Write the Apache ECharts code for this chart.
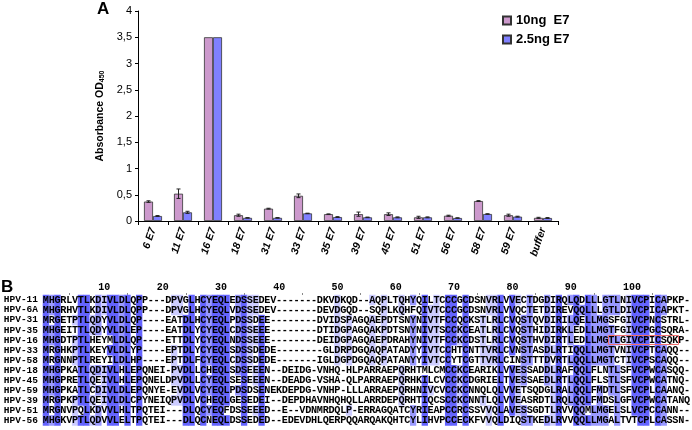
<!DOCTYPE html>
<html><head><meta charset="utf-8">
<script src="https://cdn.jsdelivr.net/npm/echarts@6.0.0/dist/echarts.min.js"></script>
<style>html,body{margin:0;padding:0;background:#fff}#c{width:692px;height:430px}</style>
</head><body><div id="c"></div><script>
// ---- Panel A data ----
const categories = ['6 E7','11 E7','16 E7','18 E7','31 E7','33 E7','35 E7','39 E7','45 E7','51 E7','56 E7','58 E7','59 E7','buffer'];
const seriesNames = ['10ng  E7', '2.5ng E7'];
const ng10 = [0.37, 0.52, 3.5, 0.11, 0.235, 0.48, 0.13, 0.13, 0.13, 0.07, 0.10, 0.38, 0.11, 0.06];
const ng10Err = [0.015, 0.09, 0, 0.02, 0.008, 0.035, 0.005, 0.04, 0.025, 0.02, 0.01, 0.008, 0.02, 0.01];
const ng25 = [0.095, 0.165, 3.5, 0.06, 0.06, 0.145, 0.075, 0.07, 0.07, 0.07, 0.057, 0.133, 0.083, 0.057];
const ng25Err = [0.008, 0.02, 0, 0.004, 0.005, 0.004, 0.008, 0.005, 0.008, 0.008, 0.004, 0.005, 0.008, 0.008];
const yTicks = {min: 0, max: 4, step: 0.5};

// ---- Panel B data ----
const seqNames = ['HPV-11','HPV-6A','HPV-31','HPV-35','HPV-16','HPV-33','HPV-58','HPV-18','HPV-45','HPV-59','HPV-39','HPV-51','HPV-56'];
const seqs = [
 'MHGRLVTLKDIVLDLQPP---DPVGLHCYEQLEDSSEDEV-------DKVDKQD--AQPLTQHYQILTCCCGCDSNVRLVVECTDGDIRQLQDLLLGTLNIVCPICAPKP-',
 'MHGRHVTLKDIVLDLQPP---DPVGLHCYEQLVDSSEDEV-------DEVDGQD--SQPLKQHFQIVTCCCGCDSNVRLVVQCTETDIREVQQLLLGTLDIVCPICAPKT-',
 'MRGETPTLQDYVLDLQP----EATDLHCYEQLPDSSDEE--------DVIDSPAGQAEPDTSNYNIVTFCCQCKSTLRLCVQSTQVDIRILQELLMGSFGIVCPNCSTRL-',
 'MHGEITTLQDYVLDLEP----EATDLYCYEQLCDSSEEE--------DTIDGPAGQAKPDTSNYNIVTSCCKCEATLRLCVQSTHIDIRKLEDLLMGTFGIVCPGCSQRA-',
 'MHGDTPTLHEYMLDLQP----ETTDLYCYEQLNDSSEEE--------DEIDGPAGQAEPDRAHYNIVTFCCKCDSTLRLCVQSTHVDIRTLEDLLMGTLGIVCPICSQKP-',
 'MRGHKPTLKEYVLDLYP----EPTDLYCYEQLSDSSDEDE--------GLDRPDGQAQPATADYYIVTCCHTCNTTVRLCVNSTASDLRTIQQLLMGTVNIVCPTCAQQ--',
 'MRGNNPTLREYILDLHP----EPTDLFCYEQLCDSSDEDE-------IGLDGPDGQAQPATANYYIVTCCYTCGTTVRLCINSTTTDVRTLQQLLMGTCTIVCPSCAQQ--',
 'MHGPKATLQDIVLHLEPQNEI-PVDLLCHEQLSDSEEEN--DEIDG-VNHQ-HLPARRAEPQRHTMLCMCCKCEARIKLVVESSADDLRAFQQLFLNTLSFVCPWCASQQ-',
 'MHGPRETLQEIVLHLEPQNELDPVDLLCYEQLSESEEEN--DEADG-VSHA-QLPARRAEPQRHKILCVCCKCDGRIELTVESSAEDLRTLQQLFLSTLSFVCPWCATNQ-',
 'MHGPKATLCDIVLDLEPQNYE-EVDLVCYEQLPDSDSENEKDEPDG-VNHP-LLLARRAEPQRHNIVCVCCKCNNQLQLVVETSQDGLRALQQLFMDTLSFVCPLCAANQ-',
 'MRGPKPTLQEIVLDLCPYNEIQPVDLVCHEQLGESEDEI--DEPDHAVNHQHQLLARRDEPQRHTIQCSCCKCNNTLQLVVEASRDTLRQLQQLFMDSLGFVCPWCATANQ',
 'MRGNVPQLKDVVLHLTPQTEI---DLQCYEQFDSSEEED--E--VDNMRDQLP-ERRAGQATCYRIEAPCCRCSSVVQLAVESSGDTLRVVQQMLMGELSLVCPCCANN--',
 'MHGKVPTLQDVVLELTPQTEI---DLQCNEQLDSSEDED--EDEVDHLQERPQQARQAKQHTCYLIHVPCCECKFVVQLDIQSTKEDLRVVQQLLMGALTVTCPLCASSN-'
];
const scaleLabelsUpTo = 100;
const boxRow = 'HPV-16';
const boxFrom = 98, boxTo = 109;

// ---- derived ----
const nCols = Math.max(...seqs.map(s => s.length));
const positions = [];
for (let i = 1; i <= nCols; i++) positions.push(String(i));
const cells = [];
for (let c = 0; c < nCols; c++) {
  const counts = {};
  seqs.forEach(s => { const ch = s[c] || '-'; if (ch !== '-') counts[ch] = (counts[ch] || 0) + 1; });
  seqs.forEach((s, r) => {
    const ch = s[c] || '-';
    let lvl = 0;
    if (ch !== '-') {
      const p = counts[ch] / seqs.length;
      lvl = p > 0.8 ? 3 : p > 0.6 ? 2 : p > 0.4 ? 1 : 0;
    }
    cells.push([c, r, lvl]);
  });
}

function errItem(offset) {
  return function (params, api) {
    const i = api.value(0), v = api.value(1), e = api.value(2);
    if (!e) return null;
    const hi = api.coord([i, v + e]), lo = api.coord([i, v - e]);
    const x = hi[0] + offset;
    const st = {stroke: '#222', lineWidth: 1};
    return {type: 'group', children: [
      {type: 'line', shape: {x1: x, y1: hi[1], x2: x, y2: lo[1]}, style: st},
      {type: 'line', shape: {x1: x - 2, y1: hi[1], x2: x + 2, y2: hi[1]}, style: st},
      {type: 'line', shape: {x1: x - 2, y1: lo[1], x2: x + 2, y2: lo[1]}, style: st}
    ]};
  };
}

const chart = echarts.init(document.getElementById('c'), null, {renderer: 'canvas'});
chart.setOption({
  animation: false,
  backgroundColor: '#fff',
  textStyle: {fontFamily: 'Liberation Sans, Arial, sans-serif'},
  graphic: [
    {type: 'text', left: 97, top: 1, style: {text: 'A', font: 'bold 17px Liberation Sans', fill: '#000'}},
    {type: 'text', left: 1, top: 279, style: {text: 'B', font: 'bold 17px Liberation Sans', fill: '#000'}}
  ],
  legend: {
    data: seriesNames, orient: 'vertical', left: 497, top: 9,
    icon: 'rect', itemWidth: 8, itemHeight: 8, itemGap: 6,
    textStyle: {fontSize: 13, fontWeight: 'bold', color: '#000', fontFamily: 'Liberation Sans'}
  },
  grid: [
    {left: 138, top: 11, width: 420, height: 210},
    {left: 43, top: 295, width: 647, height: 130.5}
  ],
  xAxis: [
    {type: 'category', gridIndex: 0, data: categories,
     axisLine: {lineStyle: {color: '#000', width: 1}},
     axisTick: {show: true, length: 4, lineStyle: {color: '#000'}},
     axisLabel: {interval: 0, rotate: 72, fontSize: 10.5, fontWeight: 'bold', fontStyle: 'italic', color: '#000', margin: 7}},
    {type: 'category', gridIndex: 1, data: positions, position: 'top',
     axisLine: {show: false},
     axisTick: {show: true, alignWithLabel: true, length: 2, interval: i => (i + 1) % 5 === 0 && (i + 1) % 10 !== 0, lineStyle: {color: '#888'}},
     axisLabel: {interval: i => (i + 1) % 10 === 0 && (i + 1) <= scaleLabelsUpTo, fontFamily: 'Liberation Mono', fontWeight: 'bold', fontSize: 10, color: '#000', margin: 3, align: 'left'}}
  ],
  yAxis: [
    {type: 'value', gridIndex: 0, min: yTicks.min, max: yTicks.max, interval: yTicks.step,
     axisLine: {show: true, lineStyle: {color: '#000'}},
     axisTick: {show: true, length: 3, lineStyle: {color: '#000'}},
     splitLine: {show: false},
     axisLabel: {fontSize: 11, color: '#000', margin: 6, formatter: v => String(v).replace('.', ',')},
     name: '{a|Absorbance OD}{s|450}', nameLocation: 'middle', nameGap: 24, nameRotate: 90,
     nameTextStyle: {rich: {a: {fontSize: 10.5, fontWeight: 'bold', color: '#000'}, s: {fontSize: 7, fontWeight: 'bold', color: '#000', verticalAlign: 'bottom', padding: [4, 0, 0, 0]}}}},
    {type: 'category', gridIndex: 1, data: seqNames, inverse: true,
     axisLine: {show: false}, axisTick: {show: false},
     axisLabel: {interval: 0, fontFamily: 'Liberation Mono', fontWeight: 'bold', fontSize: 9.5, color: '#000', margin: 5}}
  ],
  visualMap: {
    type: 'piecewise', show: false, seriesIndex: 4, dimension: 2,
    pieces: [
      {value: 0, color: 'rgba(255,255,255,0)'},
      {value: 1, color: '#ccccff'},
      {value: 2, color: '#9999ff'},
      {value: 3, color: '#6464ff'}
    ]
  },
  series: [
    {name: seriesNames[0], type: 'bar', xAxisIndex: 0, yAxisIndex: 0, data: ng10, barWidth: 9, barGap: '0%',
     itemStyle: {color: '#cc99cc', borderColor: '#333', borderWidth: 0.8}},
    {name: seriesNames[1], type: 'bar', xAxisIndex: 0, yAxisIndex: 0, data: ng25, barWidth: 9, barGap: '0%',
     itemStyle: {color: '#8080ff', borderColor: '#333', borderWidth: 0.8}},
    {type: 'custom', xAxisIndex: 0, yAxisIndex: 0, renderItem: errItem(-4.5), z: 5,
     data: ng10.map((v, i) => [i, v, ng10Err[i]]), encode: {x: 0, y: 1}},
    {type: 'custom', xAxisIndex: 0, yAxisIndex: 0, renderItem: errItem(4.5), z: 5,
     data: ng25.map((v, i) => [i, v, ng25Err[i]]), encode: {x: 0, y: 1}},
    {type: 'heatmap', xAxisIndex: 1, yAxisIndex: 1, data: cells, progressive: 0,
     emphasis: {disabled: true},
     label: {show: true, color: '#000', fontFamily: 'Liberation Mono', fontWeight: 'bold', fontSize: 10.2,
       formatter: p => seqs[p.data[1]][p.data[0]] || ''}},
    {type: 'custom', xAxisIndex: 1, yAxisIndex: 1, z: 20, clip: false,
     data: [[boxFrom - 1, seqNames.indexOf(boxRow), boxTo - 1]],
     encode: {x: 0, y: 1},
     renderItem: function (params, api) {
       const r = api.value(1);
       const a = api.coord([api.value(0), r]);
       const b = api.coord([api.value(2), r]);
       const s = api.size([1, 1], [api.value(0), r]);
       const x1 = Math.round(a[0] - s[0] / 2) + 0.5, x2 = Math.round(b[0] + s[0] / 2) + 0.5;
       const y1 = Math.round(a[1] - s[1] / 2) + 0.5, y2 = Math.round(a[1] + s[1] / 2) - 0.5;
       const st = {stroke: '#f07070', lineWidth: 1};
       return {type: 'group', children: [
         {type: 'line', z2: 100, shape: {x1: x1, y1: y1, x2: x2, y2: y1}, style: st},
         {type: 'line', z2: 100, shape: {x1: x1, y1: y2, x2: x2, y2: y2}, style: st},
         {type: 'line', z2: 100, shape: {x1: x1, y1: y1, x2: x1, y2: y2}, style: st},
         {type: 'line', z2: 100, shape: {x1: x2, y1: y1, x2: x2, y2: y2}, style: st}
       ]};
     }}
  ]
});
</script></body></html>
